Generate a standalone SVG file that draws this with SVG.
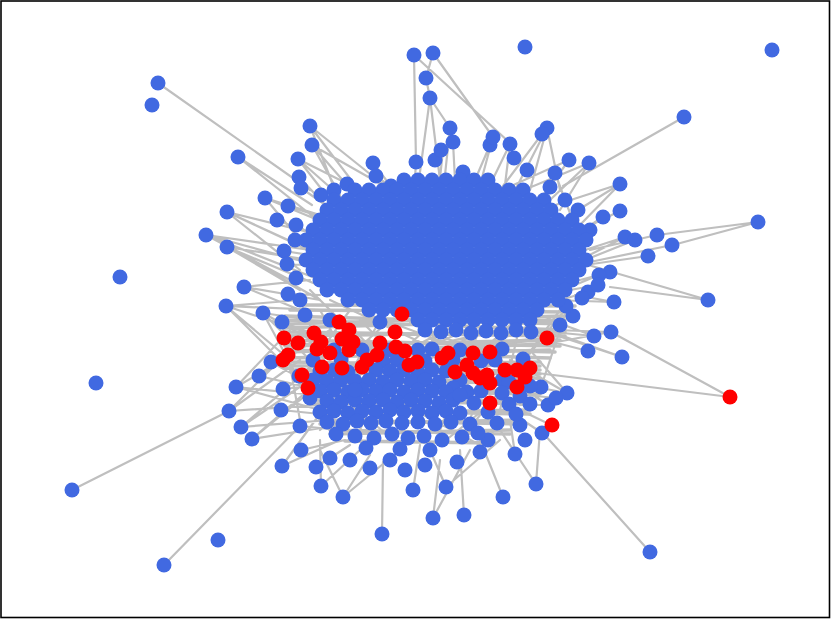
<svg xmlns="http://www.w3.org/2000/svg" width="831" height="619" viewBox="0 0 831 619">
<style>
circle{r:7.5px}
.b circle{fill:#4169e1}
.r circle{fill:#ff0000}
#edges path{fill:none;stroke:#bfbfbf;stroke-width:2.2;stroke-linecap:round}
#edges path.bundle{stroke-width:3.6}
</style>
<rect x="0" y="0" width="831" height="619" fill="#fff"/>
<rect x="1" y="1" width="828.5" height="616.5" fill="none" stroke="#000" stroke-width="1.6"/>
<g id="edges">
<path d="M158 83L310 190M238 157L312 205M72 490L229 411M164 565L300 426M684 117L563 186M758 222L657 235M758 222L673 245M708 300L610 287M708 300L578 262M730 397L537 373M730 397L611 332M650 552L543 433M382 534L383 462M414 55L416 162M414 55L510 143M433 53L493 137M433 53L426 78L430 98L420 172M430 98L440 180M430 98L450 128M310 126L335 190M310 126L355 185M312 145L340 195M312 145L360 200M298 159L330 200M298 159L350 205M299 177L330 210M301 188L340 215M265 198L320 215M265 198L330 225M288 206L330 220M227 212L320 235M227 212L310 250M227 212L300 270M277 220L315 235M296 225L320 240M206 235L310 250M206 235L305 262M206 235L290 280M227 247L310 260M227 247L300 290M227 247L320 300M284 251L310 255M287 264L310 265M244 287L310 280M244 287L320 300M244 287L300 310M288 294L320 295M226 306L300 300M226 306L320 310M226 306L330 340M263 313L310 320M263 313L320 345M282 322L330 340M227 212L330 260M206 235L320 280M227 247L330 290M265 198L300 240M238 157L330 230M298 159L380 200M312 145L400 195M310 126L390 190"/>
<path d="M547 128L510 200M542 134L500 190M547 128L530 190M569 160L540 200M589 163L550 200M589 163L560 210M620 184L570 215M620 184L575 230M620 211L580 230M603 217L575 235M625 237L585 250M635 240L585 260M657 235L590 250M672 245L590 262M648 256L585 265M610 272L580 280M599 275L575 285M614 302L575 295M598 285L570 290M588 292L560 300M594 336L550 320M611 332L555 330M588 351L545 340M622 357L560 335M622 357L540 330M450 128L445 175M453 142L455 180M443 150L440 178M493 137L480 185M490 145L475 180M510 144L490 185M510 144L505 185M373 163L390 185M376 176L395 190M416 162L415 178M547 128L560 190M555 173L580 240M589 163L500 200M620 184L540 210M569 160L480 200M620 211L560 240M625 237L560 270M614 302L550 300M594 336L530 330M611 332L540 345"/>
<path d="M271 362L320 380M259 376L320 390M236 387L315 395M236 387L320 410M229 411L320 405M241 427L330 420M252 439L340 425M281 410L330 415M283 389L320 385M300 426L340 430M301 450L345 440M282 466L340 440M316 467L350 445M321 486L360 450M343 497L370 455M343 497L400 450M413 490L420 445M446 487L430 450M433 518L440 460M464 515L460 450M503 497L480 440M536 484L500 430M515 454L510 420M488 440L500 420M541 387L520 380M567 393L525 385M556 398L525 395M548 405L520 405M542 433L515 415M551 425L520 410M547 338L520 340M547 338L500 345M236 387L300 350M229 411L300 360M241 427L320 360M252 439L300 400M282 466L330 400M321 486L320 440M343 497L320 450M433 518L470 450M446 487L500 440M536 484L540 430M226 306L300 380M263 313L310 400M226 306L290 360M263 313L330 380M282 322L300 420M236 387L290 330M229 411L300 340M259 376L330 330M271 362L340 400M252 439L320 380M241 427L310 380M567 393L510 360M541 387L500 360M548 405L510 380M567 393L530 350"/>
<path d="M300 300L340 400M320 310L380 420M340 315L420 400M360 320L450 410M380 320L330 410M400 325L360 430M420 325L480 400M440 328L400 420M460 328L520 390M480 328L440 430M500 325L470 420M520 325L500 410M540 320L420 380M560 310L510 380M570 300L540 390M310 290L400 380M330 300L480 370M350 310L300 380M370 315L520 370M390 320L300 400M410 322L540 380M430 325L320 430M450 328L350 380M470 328L380 370M490 326L410 370M510 325L450 380M530 322L330 370M550 318L360 400M565 310L460 440M480 445L320 360M400 445L320 380M440 445L520 380"/>
<path class="bundle" d="M285 316L565 324M285 324L565 316M285 320L565 330M285 328L565 320M285 332L565 336M285 336L565 332M285 340L560 346M285 346L560 340M285 344L555 352M285 352L555 344M290 350L550 358M290 358L550 350M290 362L540 366M290 366L540 362M295 370L540 374M295 374L540 370M300 378L540 384M300 384L540 378M305 390L540 394M305 394L540 390M310 400L535 404M310 404L535 400M315 410L530 414M315 414L530 410M320 420L520 424M320 424L520 420M330 430L510 434M330 434L510 430M345 441L495 443M290 310L570 312M300 305L575 306"/>
</g>
<g class="b">
<g id="p1"><circle cx="152" cy="105"/></g><g id="p2"><circle cx="120" cy="277"/></g><g id="p3"><circle cx="96" cy="383"/></g><g id="p4"><circle cx="218" cy="540"/></g><g id="p5"><circle cx="525" cy="47"/></g><g id="p6"><circle cx="772" cy="50"/></g>
<g id="p7"><circle cx="158" cy="83"/></g><g id="p8"><circle cx="238" cy="157"/></g><g id="p9"><circle cx="72" cy="490"/></g><g id="p10"><circle cx="164" cy="565"/></g><g id="p11"><circle cx="684" cy="117"/></g><g id="p12"><circle cx="758" cy="222"/></g><g id="p13"><circle cx="708" cy="300"/></g><g id="p14"><circle cx="650" cy="552"/></g><g id="p15"><circle cx="382" cy="534"/></g><g id="p16"><circle cx="414" cy="55"/></g><g id="p17"><circle cx="433" cy="53"/></g><g id="p18"><circle cx="426" cy="78"/></g><g id="p19"><circle cx="430" cy="98"/></g>
<g id="p20"><circle cx="310" cy="126"/></g><g id="p21"><circle cx="312" cy="145"/></g><g id="p22"><circle cx="298" cy="159"/></g><g id="p23"><circle cx="299" cy="177"/></g><g id="p24"><circle cx="301" cy="188"/></g><g id="p25"><circle cx="265" cy="198"/></g><g id="p26"><circle cx="288" cy="206"/></g><g id="p27"><circle cx="227" cy="212"/></g><g id="p28"><circle cx="277" cy="220"/></g><g id="p29"><circle cx="296" cy="225"/></g><g id="p30"><circle cx="206" cy="235"/></g><g id="p31"><circle cx="227" cy="247"/></g><g id="p32"><circle cx="284" cy="251"/></g><g id="p33"><circle cx="287" cy="264"/></g><g id="p34"><circle cx="244" cy="287"/></g><g id="p35"><circle cx="288" cy="294"/></g><g id="p36"><circle cx="226" cy="306"/></g><g id="p37"><circle cx="263" cy="313"/></g><g id="p38"><circle cx="282" cy="322"/></g><g id="p39"><circle cx="321" cy="195"/></g>
<g id="p40"><circle cx="347" cy="184"/></g><g id="p41"><circle cx="373" cy="163"/></g><g id="p42"><circle cx="376" cy="176"/></g><g id="p43"><circle cx="391" cy="186"/></g><g id="p44"><circle cx="416" cy="162"/></g><g id="p45"><circle cx="435" cy="160"/></g><g id="p46"><circle cx="441" cy="150"/></g><g id="p47"><circle cx="450" cy="128"/></g><g id="p48"><circle cx="453" cy="142"/></g><g id="p49"><circle cx="463" cy="172"/></g><g id="p50"><circle cx="490" cy="145"/></g><g id="p51"><circle cx="493" cy="137"/></g><g id="p52"><circle cx="510" cy="144"/></g><g id="p53"><circle cx="514" cy="158"/></g><g id="p54"><circle cx="527" cy="170"/></g><g id="p55"><circle cx="547" cy="128"/></g><g id="p56"><circle cx="542" cy="134"/></g><g id="p57"><circle cx="555" cy="173"/></g><g id="p58"><circle cx="569" cy="160"/></g><g id="p59"><circle cx="589" cy="163"/></g>
<g id="p60"><circle cx="550" cy="187"/></g><g id="p61"><circle cx="565" cy="200"/></g><g id="p62"><circle cx="578" cy="210"/></g><g id="p63"><circle cx="620" cy="184"/></g><g id="p64"><circle cx="620" cy="211"/></g><g id="p65"><circle cx="603" cy="217"/></g><g id="p66"><circle cx="590" cy="230"/></g><g id="p67"><circle cx="625" cy="237"/></g><g id="p68"><circle cx="635" cy="240"/></g><g id="p69"><circle cx="657" cy="235"/></g><g id="p70"><circle cx="672" cy="245"/></g><g id="p71"><circle cx="648" cy="256"/></g><g id="p72"><circle cx="610" cy="272"/></g><g id="p73"><circle cx="599" cy="275"/></g><g id="p74"><circle cx="588" cy="292"/></g><g id="p75"><circle cx="598" cy="285"/></g><g id="p76"><circle cx="614" cy="302"/></g><g id="p77"><circle cx="594" cy="336"/></g><g id="p78"><circle cx="611" cy="332"/></g><g id="p79"><circle cx="588" cy="351"/></g>
<g id="p80"><circle cx="622" cy="357"/></g><g id="p81"><circle cx="573" cy="316"/></g><g id="p82"><circle cx="560" cy="325"/></g><g id="p83"><circle cx="541" cy="387"/></g><g id="p84"><circle cx="567" cy="393"/></g><g id="p85"><circle cx="548" cy="405"/></g><g id="p86"><circle cx="556" cy="398"/></g><g id="p87"><circle cx="542" cy="433"/></g><g id="p88"><circle cx="515" cy="454"/></g><g id="p89"><circle cx="536" cy="484"/></g><g id="p90"><circle cx="503" cy="497"/></g><g id="p91"><circle cx="488" cy="440"/></g><g id="p92"><circle cx="464" cy="515"/></g><g id="p93"><circle cx="446" cy="487"/></g><g id="p94"><circle cx="433" cy="518"/></g><g id="p95"><circle cx="413" cy="490"/></g><g id="p96"><circle cx="457" cy="462"/></g><g id="p97"><circle cx="480" cy="452"/></g><g id="p98"><circle cx="520" cy="425"/></g><g id="p99"><circle cx="525" cy="440"/></g>
<g id="p100"><circle cx="271" cy="362"/></g><g id="p101"><circle cx="259" cy="376"/></g><g id="p102"><circle cx="236" cy="387"/></g><g id="p103"><circle cx="229" cy="411"/></g><g id="p104"><circle cx="241" cy="427"/></g><g id="p105"><circle cx="252" cy="439"/></g><g id="p106"><circle cx="281" cy="410"/></g><g id="p107"><circle cx="283" cy="389"/></g><g id="p108"><circle cx="300" cy="426"/></g><g id="p109"><circle cx="301" cy="450"/></g><g id="p110"><circle cx="282" cy="466"/></g><g id="p111"><circle cx="316" cy="467"/></g><g id="p112"><circle cx="321" cy="486"/></g><g id="p113"><circle cx="343" cy="497"/></g><g id="p114"><circle cx="330" cy="458"/></g><g id="p115"><circle cx="350" cy="460"/></g><g id="p116"><circle cx="370" cy="468"/></g><g id="p117"><circle cx="390" cy="460"/></g><g id="p118"><circle cx="405" cy="470"/></g><g id="p119"><circle cx="425" cy="465"/></g>
<g id="p120"><circle cx="299" cy="376"/></g><g id="p121"><circle cx="310" cy="398"/></g><g id="p122"><circle cx="300" cy="300"/></g><g id="p123"><circle cx="305" cy="315"/></g><g id="p124"><circle cx="296" cy="278"/></g><g id="p125"><circle cx="334" cy="190"/></g><g id="p126"><circle cx="295" cy="240"/></g><g id="p127"><circle cx="330" cy="320"/></g><g id="p128"><circle cx="380" cy="322"/></g><g id="p129"><circle cx="566" cy="306"/></g><g id="p130"><circle cx="582" cy="298"/></g>
</g>
<g class="b">
<g id="u1"><circle cx="404" cy="180"/></g><g id="u2"><circle cx="418" cy="180"/></g><g id="u3"><circle cx="432" cy="180"/></g><g id="u4"><circle cx="446" cy="180"/></g><g id="u5"><circle cx="460" cy="180"/></g><g id="u6"><circle cx="474" cy="180"/></g><g id="u7"><circle cx="488" cy="180"/></g>
<g id="u8"><circle cx="355" cy="190"/></g><g id="u9"><circle cx="369" cy="190"/></g><g id="u10"><circle cx="383" cy="190"/></g><g id="u11"><circle cx="397" cy="190"/></g><g id="u12"><circle cx="411" cy="190"/></g><g id="u13"><circle cx="425" cy="190"/></g><g id="u14"><circle cx="439" cy="190"/></g><g id="u15"><circle cx="453" cy="190"/></g><g id="u16"><circle cx="467" cy="190"/></g><g id="u17"><circle cx="481" cy="190"/></g><g id="u18"><circle cx="495" cy="190"/></g><g id="u19"><circle cx="509" cy="190"/></g><g id="u20"><circle cx="523" cy="190"/></g>
<g id="u21"><circle cx="334" cy="200"/></g><g id="u22"><circle cx="348" cy="200"/></g><g id="u23"><circle cx="362" cy="200"/></g><g id="u24"><circle cx="376" cy="200"/></g><g id="u25"><circle cx="390" cy="200"/></g><g id="u26"><circle cx="404" cy="200"/></g><g id="u27"><circle cx="418" cy="200"/></g><g id="u28"><circle cx="432" cy="200"/></g><g id="u29"><circle cx="446" cy="200"/></g><g id="u30"><circle cx="460" cy="200"/></g><g id="u31"><circle cx="474" cy="200"/></g><g id="u32"><circle cx="488" cy="200"/></g><g id="u33"><circle cx="502" cy="200"/></g><g id="u34"><circle cx="516" cy="200"/></g><g id="u35"><circle cx="530" cy="200"/></g><g id="u36"><circle cx="544" cy="200"/></g>
<g id="u37"><circle cx="327" cy="210"/></g><g id="u38"><circle cx="341" cy="210"/></g><g id="u39"><circle cx="355" cy="210"/></g><g id="u40"><circle cx="369" cy="210"/></g><g id="u41"><circle cx="383" cy="210"/></g><g id="u42"><circle cx="397" cy="210"/></g><g id="u43"><circle cx="411" cy="210"/></g><g id="u44"><circle cx="425" cy="210"/></g><g id="u45"><circle cx="439" cy="210"/></g><g id="u46"><circle cx="453" cy="210"/></g><g id="u47"><circle cx="467" cy="210"/></g><g id="u48"><circle cx="481" cy="210"/></g><g id="u49"><circle cx="495" cy="210"/></g><g id="u50"><circle cx="509" cy="210"/></g><g id="u51"><circle cx="523" cy="210"/></g><g id="u52"><circle cx="537" cy="210"/></g><g id="u53"><circle cx="551" cy="210"/></g>
<g id="u54"><circle cx="320" cy="220"/></g><g id="u55"><circle cx="334" cy="220"/></g><g id="u56"><circle cx="348" cy="220"/></g><g id="u57"><circle cx="362" cy="220"/></g><g id="u58"><circle cx="376" cy="220"/></g><g id="u59"><circle cx="390" cy="220"/></g><g id="u60"><circle cx="404" cy="220"/></g><g id="u61"><circle cx="418" cy="220"/></g><g id="u62"><circle cx="432" cy="220"/></g><g id="u63"><circle cx="446" cy="220"/></g><g id="u64"><circle cx="460" cy="220"/></g><g id="u65"><circle cx="474" cy="220"/></g><g id="u66"><circle cx="488" cy="220"/></g><g id="u67"><circle cx="502" cy="220"/></g><g id="u68"><circle cx="516" cy="220"/></g><g id="u69"><circle cx="530" cy="220"/></g><g id="u70"><circle cx="544" cy="220"/></g><g id="u71"><circle cx="558" cy="220"/></g><g id="u72"><circle cx="572" cy="220"/></g>
<g id="u73"><circle cx="313" cy="230"/></g><g id="u74"><circle cx="327" cy="230"/></g><g id="u75"><circle cx="341" cy="230"/></g><g id="u76"><circle cx="355" cy="230"/></g><g id="u77"><circle cx="369" cy="230"/></g><g id="u78"><circle cx="383" cy="230"/></g><g id="u79"><circle cx="397" cy="230"/></g><g id="u80"><circle cx="411" cy="230"/></g><g id="u81"><circle cx="425" cy="230"/></g><g id="u82"><circle cx="439" cy="230"/></g><g id="u83"><circle cx="453" cy="230"/></g><g id="u84"><circle cx="467" cy="230"/></g><g id="u85"><circle cx="481" cy="230"/></g><g id="u86"><circle cx="495" cy="230"/></g><g id="u87"><circle cx="509" cy="230"/></g><g id="u88"><circle cx="523" cy="230"/></g><g id="u89"><circle cx="537" cy="230"/></g><g id="u90"><circle cx="551" cy="230"/></g><g id="u91"><circle cx="565" cy="230"/></g><g id="u92"><circle cx="579" cy="230"/></g>
<g id="u93"><circle cx="306" cy="240"/></g><g id="u94"><circle cx="320" cy="240"/></g><g id="u95"><circle cx="334" cy="240"/></g><g id="u96"><circle cx="348" cy="240"/></g><g id="u97"><circle cx="362" cy="240"/></g><g id="u98"><circle cx="376" cy="240"/></g><g id="u99"><circle cx="390" cy="240"/></g><g id="u100"><circle cx="404" cy="240"/></g><g id="u101"><circle cx="418" cy="240"/></g><g id="u102"><circle cx="432" cy="240"/></g><g id="u103"><circle cx="446" cy="240"/></g><g id="u104"><circle cx="460" cy="240"/></g><g id="u105"><circle cx="474" cy="240"/></g><g id="u106"><circle cx="488" cy="240"/></g><g id="u107"><circle cx="502" cy="240"/></g><g id="u108"><circle cx="516" cy="240"/></g><g id="u109"><circle cx="530" cy="240"/></g><g id="u110"><circle cx="544" cy="240"/></g><g id="u111"><circle cx="558" cy="240"/></g><g id="u112"><circle cx="572" cy="240"/></g><g id="u113"><circle cx="586" cy="240"/></g>
<g id="u114"><circle cx="313" cy="250"/></g><g id="u115"><circle cx="327" cy="250"/></g><g id="u116"><circle cx="341" cy="250"/></g><g id="u117"><circle cx="355" cy="250"/></g><g id="u118"><circle cx="369" cy="250"/></g><g id="u119"><circle cx="383" cy="250"/></g><g id="u120"><circle cx="397" cy="250"/></g><g id="u121"><circle cx="411" cy="250"/></g><g id="u122"><circle cx="425" cy="250"/></g><g id="u123"><circle cx="439" cy="250"/></g><g id="u124"><circle cx="453" cy="250"/></g><g id="u125"><circle cx="467" cy="250"/></g><g id="u126"><circle cx="481" cy="250"/></g><g id="u127"><circle cx="495" cy="250"/></g><g id="u128"><circle cx="509" cy="250"/></g><g id="u129"><circle cx="523" cy="250"/></g><g id="u130"><circle cx="537" cy="250"/></g><g id="u131"><circle cx="551" cy="250"/></g><g id="u132"><circle cx="565" cy="250"/></g><g id="u133"><circle cx="579" cy="250"/></g>
<g id="u134"><circle cx="306" cy="260"/></g><g id="u135"><circle cx="320" cy="260"/></g><g id="u136"><circle cx="334" cy="260"/></g><g id="u137"><circle cx="348" cy="260"/></g><g id="u138"><circle cx="362" cy="260"/></g><g id="u139"><circle cx="376" cy="260"/></g><g id="u140"><circle cx="390" cy="260"/></g><g id="u141"><circle cx="404" cy="260"/></g><g id="u142"><circle cx="418" cy="260"/></g><g id="u143"><circle cx="432" cy="260"/></g><g id="u144"><circle cx="446" cy="260"/></g><g id="u145"><circle cx="460" cy="260"/></g><g id="u146"><circle cx="474" cy="260"/></g><g id="u147"><circle cx="488" cy="260"/></g><g id="u148"><circle cx="502" cy="260"/></g><g id="u149"><circle cx="516" cy="260"/></g><g id="u150"><circle cx="530" cy="260"/></g><g id="u151"><circle cx="544" cy="260"/></g><g id="u152"><circle cx="558" cy="260"/></g><g id="u153"><circle cx="572" cy="260"/></g><g id="u154"><circle cx="586" cy="260"/></g>
<g id="u155"><circle cx="313" cy="270"/></g><g id="u156"><circle cx="327" cy="270"/></g><g id="u157"><circle cx="341" cy="270"/></g><g id="u158"><circle cx="355" cy="270"/></g><g id="u159"><circle cx="369" cy="270"/></g><g id="u160"><circle cx="383" cy="270"/></g><g id="u161"><circle cx="397" cy="270"/></g><g id="u162"><circle cx="411" cy="270"/></g><g id="u163"><circle cx="425" cy="270"/></g><g id="u164"><circle cx="439" cy="270"/></g><g id="u165"><circle cx="453" cy="270"/></g><g id="u166"><circle cx="467" cy="270"/></g><g id="u167"><circle cx="481" cy="270"/></g><g id="u168"><circle cx="495" cy="270"/></g><g id="u169"><circle cx="509" cy="270"/></g><g id="u170"><circle cx="523" cy="270"/></g><g id="u171"><circle cx="537" cy="270"/></g><g id="u172"><circle cx="551" cy="270"/></g><g id="u173"><circle cx="565" cy="270"/></g><g id="u174"><circle cx="579" cy="270"/></g>
<g id="u175"><circle cx="320" cy="280"/></g><g id="u176"><circle cx="334" cy="280"/></g><g id="u177"><circle cx="348" cy="280"/></g><g id="u178"><circle cx="362" cy="280"/></g><g id="u179"><circle cx="376" cy="280"/></g><g id="u180"><circle cx="390" cy="280"/></g><g id="u181"><circle cx="404" cy="280"/></g><g id="u182"><circle cx="418" cy="280"/></g><g id="u183"><circle cx="432" cy="280"/></g><g id="u184"><circle cx="446" cy="280"/></g><g id="u185"><circle cx="460" cy="280"/></g><g id="u186"><circle cx="474" cy="280"/></g><g id="u187"><circle cx="488" cy="280"/></g><g id="u188"><circle cx="502" cy="280"/></g><g id="u189"><circle cx="516" cy="280"/></g><g id="u190"><circle cx="530" cy="280"/></g><g id="u191"><circle cx="544" cy="280"/></g><g id="u192"><circle cx="558" cy="280"/></g><g id="u193"><circle cx="572" cy="280"/></g>
<g id="u194"><circle cx="327" cy="290"/></g><g id="u195"><circle cx="341" cy="290"/></g><g id="u196"><circle cx="355" cy="290"/></g><g id="u197"><circle cx="369" cy="290"/></g><g id="u198"><circle cx="383" cy="290"/></g><g id="u199"><circle cx="397" cy="290"/></g><g id="u200"><circle cx="411" cy="290"/></g><g id="u201"><circle cx="425" cy="290"/></g><g id="u202"><circle cx="439" cy="290"/></g><g id="u203"><circle cx="453" cy="290"/></g><g id="u204"><circle cx="467" cy="290"/></g><g id="u205"><circle cx="481" cy="290"/></g><g id="u206"><circle cx="495" cy="290"/></g><g id="u207"><circle cx="509" cy="290"/></g><g id="u208"><circle cx="523" cy="290"/></g><g id="u209"><circle cx="537" cy="290"/></g><g id="u210"><circle cx="551" cy="290"/></g><g id="u211"><circle cx="565" cy="290"/></g>
<g id="u212"><circle cx="348" cy="300"/></g><g id="u213"><circle cx="362" cy="300"/></g><g id="u214"><circle cx="376" cy="300"/></g><g id="u215"><circle cx="390" cy="300"/></g><g id="u216"><circle cx="404" cy="300"/></g><g id="u217"><circle cx="418" cy="300"/></g><g id="u218"><circle cx="432" cy="300"/></g><g id="u219"><circle cx="446" cy="300"/></g><g id="u220"><circle cx="460" cy="300"/></g><g id="u221"><circle cx="474" cy="300"/></g><g id="u222"><circle cx="488" cy="300"/></g><g id="u223"><circle cx="502" cy="300"/></g><g id="u224"><circle cx="516" cy="300"/></g><g id="u225"><circle cx="530" cy="300"/></g><g id="u226"><circle cx="544" cy="300"/></g><g id="u227"><circle cx="558" cy="300"/></g>
<g id="u228"><circle cx="369" cy="310"/></g><g id="u229"><circle cx="383" cy="310"/></g><g id="u230"><circle cx="397" cy="310"/></g><g id="u231"><circle cx="411" cy="310"/></g><g id="u232"><circle cx="425" cy="310"/></g><g id="u233"><circle cx="439" cy="310"/></g><g id="u234"><circle cx="453" cy="310"/></g><g id="u235"><circle cx="467" cy="310"/></g><g id="u236"><circle cx="481" cy="310"/></g><g id="u237"><circle cx="495" cy="310"/></g><g id="u238"><circle cx="509" cy="310"/></g><g id="u239"><circle cx="523" cy="310"/></g><g id="u240"><circle cx="537" cy="310"/></g>
<g id="u241"><circle cx="418" cy="320"/></g><g id="u242"><circle cx="432" cy="320"/></g><g id="u243"><circle cx="446" cy="320"/></g><g id="u244"><circle cx="460" cy="320"/></g><g id="u245"><circle cx="474" cy="320"/></g><g id="u246"><circle cx="488" cy="320"/></g><g id="u247"><circle cx="502" cy="320"/></g><g id="u248"><circle cx="516" cy="320"/></g><g id="u249"><circle cx="530" cy="320"/></g>
<g id="u250"><circle cx="425" cy="330"/></g><g id="u251"><circle cx="441" cy="332"/></g><g id="u252"><circle cx="456" cy="330"/></g><g id="u253"><circle cx="471" cy="333"/></g><g id="u254"><circle cx="486" cy="331"/></g><g id="u255"><circle cx="501" cy="333"/></g><g id="u256"><circle cx="516" cy="330"/></g><g id="u257"><circle cx="531" cy="332"/></g>
</g>
<g class="b">
<g id="l1"><circle cx="334" cy="350"/></g><g id="l2"><circle cx="362" cy="350"/></g><g id="l3"><circle cx="390" cy="350"/></g><g id="l4"><circle cx="418" cy="350"/></g><g id="l5"><circle cx="432" cy="349"/></g><g id="l6"><circle cx="460" cy="350"/></g><g id="l7"><circle cx="502" cy="349"/></g>
<g id="l8"><circle cx="313" cy="360"/></g><g id="l9"><circle cx="341" cy="359"/></g><g id="l10"><circle cx="383" cy="361"/></g><g id="l11"><circle cx="397" cy="360"/></g><g id="l12"><circle cx="425" cy="361"/></g><g id="l13"><circle cx="453" cy="360"/></g><g id="l14"><circle cx="481" cy="361"/></g><g id="l15"><circle cx="495" cy="360"/></g><g id="l16"><circle cx="523" cy="359"/></g>
<g id="l17"><circle cx="320" cy="371"/></g><g id="l18"><circle cx="334" cy="370"/></g><g id="l19"><circle cx="348" cy="372"/></g><g id="l20"><circle cx="376" cy="370"/></g><g id="l21"><circle cx="390" cy="371"/></g><g id="l22"><circle cx="404" cy="370"/></g><g id="l23"><circle cx="418" cy="372"/></g><g id="l24"><circle cx="432" cy="370"/></g><g id="l25"><circle cx="446" cy="371"/></g><g id="l26"><circle cx="460" cy="380"/></g><g id="l27"><circle cx="502" cy="380"/></g>
<g id="l28"><circle cx="313" cy="380"/></g><g id="l29"><circle cx="327" cy="381"/></g><g id="l30"><circle cx="341" cy="380"/></g><g id="l31"><circle cx="355" cy="381"/></g><g id="l32"><circle cx="369" cy="380"/></g><g id="l33"><circle cx="383" cy="382"/></g><g id="l34"><circle cx="397" cy="380"/></g><g id="l35"><circle cx="411" cy="381"/></g><g id="l36"><circle cx="425" cy="380"/></g><g id="l37"><circle cx="439" cy="382"/></g><g id="l38"><circle cx="453" cy="388"/></g><g id="l39"><circle cx="509" cy="382"/></g><g id="l40"><circle cx="530" cy="386"/></g>
<g id="l41"><circle cx="320" cy="391"/></g><g id="l42"><circle cx="334" cy="390"/></g><g id="l43"><circle cx="348" cy="392"/></g><g id="l44"><circle cx="362" cy="390"/></g><g id="l45"><circle cx="376" cy="391"/></g><g id="l46"><circle cx="390" cy="390"/></g><g id="l47"><circle cx="404" cy="392"/></g><g id="l48"><circle cx="418" cy="390"/></g><g id="l49"><circle cx="432" cy="391"/></g><g id="l50"><circle cx="446" cy="392"/></g><g id="l51"><circle cx="467" cy="392"/></g><g id="l52"><circle cx="481" cy="391"/></g><g id="l53"><circle cx="502" cy="393"/></g><g id="l54"><circle cx="520" cy="396"/></g>
<g id="l55"><circle cx="327" cy="401"/></g><g id="l56"><circle cx="341" cy="402"/></g><g id="l57"><circle cx="355" cy="400"/></g><g id="l58"><circle cx="369" cy="401"/></g><g id="l59"><circle cx="383" cy="400"/></g><g id="l60"><circle cx="397" cy="402"/></g><g id="l61"><circle cx="411" cy="400"/></g><g id="l62"><circle cx="425" cy="401"/></g><g id="l63"><circle cx="439" cy="403"/></g><g id="l64"><circle cx="453" cy="400"/></g><g id="l65"><circle cx="474" cy="403"/></g><g id="l66"><circle cx="509" cy="404"/></g><g id="l67"><circle cx="530" cy="404"/></g>
<g id="l68"><circle cx="320" cy="412"/></g><g id="l69"><circle cx="334" cy="411"/></g><g id="l70"><circle cx="348" cy="413"/></g><g id="l71"><circle cx="362" cy="411"/></g><g id="l72"><circle cx="376" cy="412"/></g><g id="l73"><circle cx="390" cy="410"/></g><g id="l74"><circle cx="404" cy="412"/></g><g id="l75"><circle cx="418" cy="411"/></g><g id="l76"><circle cx="432" cy="413"/></g><g id="l77"><circle cx="446" cy="411"/></g><g id="l78"><circle cx="460" cy="413"/></g><g id="l79"><circle cx="488" cy="412"/></g><g id="l80"><circle cx="516" cy="414"/></g>
<g id="l81"><circle cx="327" cy="422"/></g><g id="l82"><circle cx="343" cy="424"/></g><g id="l83"><circle cx="357" cy="421"/></g><g id="l84"><circle cx="371" cy="423"/></g><g id="l85"><circle cx="386" cy="421"/></g><g id="l86"><circle cx="402" cy="423"/></g><g id="l87"><circle cx="418" cy="422"/></g><g id="l88"><circle cx="435" cy="424"/></g><g id="l89"><circle cx="451" cy="422"/></g><g id="l90"><circle cx="470" cy="424"/></g><g id="l91"><circle cx="497" cy="423"/></g>
<g id="l92"><circle cx="336" cy="434"/></g><g id="l93"><circle cx="355" cy="436"/></g><g id="l94"><circle cx="374" cy="438"/></g><g id="l95"><circle cx="392" cy="434"/></g><g id="l96"><circle cx="408" cy="438"/></g><g id="l97"><circle cx="424" cy="436"/></g><g id="l98"><circle cx="442" cy="440"/></g><g id="l99"><circle cx="462" cy="437"/></g><g id="l100"><circle cx="478" cy="433"/></g>
<g id="l101"><circle cx="366" cy="448"/></g><g id="l102"><circle cx="400" cy="449"/></g><g id="l103"><circle cx="430" cy="450"/></g><g id="l104"><circle cx="355" cy="390"/></g><g id="l105"><circle cx="460" cy="395"/></g>
</g>
<g class="r">
<g id="r1"><circle cx="402" cy="314"/></g><g id="r2"><circle cx="339" cy="322"/></g><g id="r3"><circle cx="349" cy="330"/></g><g id="r4"><circle cx="314" cy="333"/></g><g id="r5"><circle cx="395" cy="332"/></g><g id="r6"><circle cx="284" cy="338"/></g><g id="r7"><circle cx="298" cy="343"/></g><g id="r8"><circle cx="321" cy="342"/></g><g id="r9"><circle cx="342" cy="339"/></g><g id="r10"><circle cx="353" cy="342"/></g><g id="r11"><circle cx="380" cy="343"/></g><g id="r12"><circle cx="547" cy="338"/></g><g id="r13"><circle cx="396" cy="347"/></g><g id="r14"><circle cx="405" cy="351"/></g><g id="r15"><circle cx="317" cy="349"/></g><g id="r16"><circle cx="330" cy="353"/></g><g id="r17"><circle cx="349" cy="350"/></g><g id="r18"><circle cx="288" cy="355"/></g><g id="r19"><circle cx="283" cy="360"/></g><g id="r20"><circle cx="377" cy="355"/></g><g id="r21"><circle cx="367" cy="360"/></g><g id="r22"><circle cx="362" cy="367"/></g><g id="r23"><circle cx="322" cy="367"/></g>
<g id="r24"><circle cx="342" cy="368"/></g><g id="r25"><circle cx="409" cy="365"/></g><g id="r26"><circle cx="417" cy="362"/></g><g id="r27"><circle cx="448" cy="353"/></g><g id="r28"><circle cx="442" cy="358"/></g><g id="r29"><circle cx="473" cy="353"/></g><g id="r30"><circle cx="490" cy="352"/></g><g id="r31"><circle cx="467" cy="365"/></g><g id="r32"><circle cx="455" cy="372"/></g><g id="r33"><circle cx="473" cy="373"/></g><g id="r34"><circle cx="487" cy="375"/></g><g id="r35"><circle cx="490" cy="383"/></g><g id="r36"><circle cx="480" cy="378"/></g><g id="r37"><circle cx="505" cy="370"/></g><g id="r38"><circle cx="517" cy="370"/></g><g id="r39"><circle cx="530" cy="368"/></g><g id="r40"><circle cx="525" cy="377"/></g><g id="r41"><circle cx="517" cy="387"/></g><g id="r42"><circle cx="302" cy="375"/></g><g id="r43"><circle cx="308" cy="388"/></g><g id="r44"><circle cx="490" cy="403"/></g><g id="r45"><circle cx="552" cy="425"/></g><g id="r46"><circle cx="730" cy="397"/></g>
</g>
</svg>
